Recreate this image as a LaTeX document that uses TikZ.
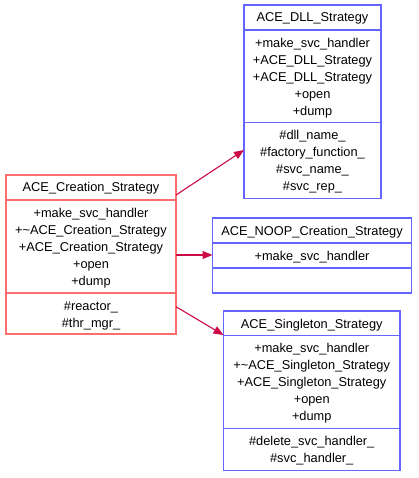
\documentclass[tikz,border=0pt]{standalone}
\usepackage{fontspec}
\setmainfont{Liberation Sans}
\usetikzlibrary{arrows.meta}
\definecolor{redline}{RGB}{255,110,110}
\definecolor{blueline}{RGB}{100,100,255}
\definecolor{arrowc}{RGB}{205,10,70}
\tikzset{
  classbox/.style={draw=#1, line width=1.3pt, inner sep=0pt, outer sep=0pt, anchor=north west},
  lbl/.style={anchor=base, inner sep=0pt, font=\fontsize{12.8}{17}\selectfont},
  rel/.style={draw=arrowc, line width=1.1pt, -{Triangle[length=10pt,width=8pt]}},
}
% name, color, x1, y1, x2, y2, divider1, divider2
\newcommand\umlbox[8]{%
  \node[classbox=#2, minimum width={(#5-#3)*1pt}, minimum height={(#6-#4)*1pt}] (#1) at (#3,#4) {};
  \draw[#2, line width=1.3pt] (#3,#7) -- (#5,#7);
  \draw[#2, line width=1.3pt] (#3,#8) -- (#5,#8);
}
% prefix, center x, first baseline y, list
\newcommand\umllines[4]{%
  \foreach \t [count=\i from 0] in {#4} {
    \node[lbl] (#1-\i) at (#2,{#3+17*\i}) {\t};
  }
}
\begin{document}
\begin{tikzpicture}[x=1pt,y=-1pt]
\useasboundingbox[fill=white] (0,0) rectangle (418,478);

% ACE_DLL_Strategy
\umlbox{dll}{blueline}{244}{5}{381}{198.5}{30}{122.7}
\umllines{dllt}{312.5}{22}{ACE\_DLL\_Strategy}
\umllines{dllo}{312.5}{47.2}{+make\_svc\_handler,+ACE\_DLL\_Strategy,+ACE\_DLL\_Strategy,+open,+dump}
\umllines{dlla}{312.5}{139.9}{\#dll\_name\_,\#factory\_function\_,\#svc\_name\_,\#svc\_rep\_}

% ACE_Creation_Strategy
\umlbox{crea}{redline}{6}{175}{176}{334}{200}{293}
\umllines{creat}{91}{192}{ACE\_Creation\_Strategy}
\umllines{creao}{91}{217.2}{+make\_svc\_handler,+\textasciitilde ACE\_Creation\_Strategy,+ACE\_Creation\_Strategy,+open,+dump}
\umllines{creaa}{91}{310.2}{\#reactor\_,\#thr\_mgr\_}

% ACE_NOOP_Creation_Strategy
\umlbox{noop}{blueline}{212.5}{218}{411.5}{293}{243}{268}
\umllines{noopt}{312}{235}{ACE\_NOOP\_Creation\_Strategy}
\umllines{noopo}{312}{260.2}{+make\_svc\_handler}

% ACE_Singleton_Strategy
\umlbox{sing}{blueline}{223.5}{311}{400}{470.7}{335.7}{428.7}
\umllines{singt}{311.75}{328}{ACE\_Singleton\_Strategy}
\umllines{singo}{311.75}{352.9}{+make\_svc\_handler,+\textasciitilde ACE\_Singleton\_Strategy,+ACE\_Singleton\_Strategy,+open,+dump}
\umllines{singa}{311.75}{445.9}{\#delete\_svc\_handler\_,\#svc\_handler\_}

% relations
\draw[rel] (crea.east |- 0,195) -- (dll.west |- 0,150);
\draw[rel] (crea.east |- 0,255) -- (noop.west |- 0,255);
\draw[rel] (crea.east |- 0,306.7) -- (sing.west |- 0,335);
\end{tikzpicture}
\end{document}
